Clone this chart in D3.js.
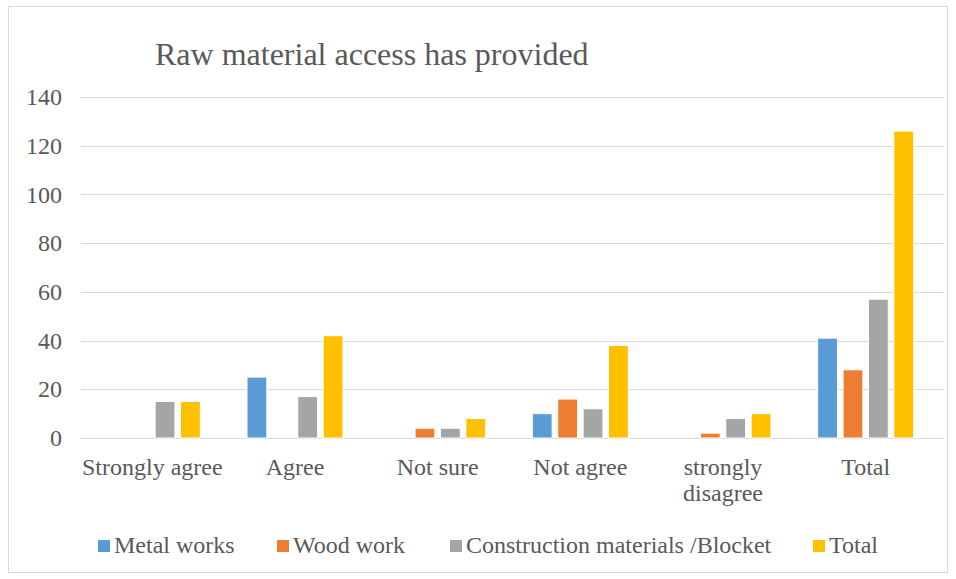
<!DOCTYPE html>
<html>
<head>
<meta charset="utf-8">
<script src="https://cdn.jsdelivr.net/npm/d3@7"></script>
<style>
  body { margin: 0; background: #fff; }
  text { font-family: "Liberation Serif", Tinos, "Times New Roman", "DejaVu Serif", serif; fill: #595959; }
</style>
</head>
<body>
<svg id="chart"></svg>
<script>
const categories = ["Strongly agree", "Agree", "Not sure", "Not agree", "strongly disagree", "Total"];
const series = ["Metal works", "Wood work", "Construction materials /Blocket", "Total"];
const metalWorks = [0, 25, 0, 10, 0, 41];
const woodWork = [0, 0, 4, 16, 2, 28];
const construction = [15, 17, 4, 12, 8, 57];
const totals = [15, 42, 8, 38, 10, 126];
const yTicks = [0, 20, 40, 60, 80, 100, 120, 140];
const colors = ["#5b9bd5", "#ed7d31", "#a5a5a5", "#ffc000"];

const values = [metalWorks, woodWork, construction, totals];
const data = categories.map((c, i) => ({
  category: c,
  vals: series.map((s, j) => ({ key: s, value: values[j][i] }))
}));

const width = 956, height = 579;
const margin = { top: 97, right: 12, bottom: 141, left: 81 };
const font = '"Liberation Serif", Tinos, "Times New Roman", "DejaVu Serif", serif';

const svg = d3.select("#chart").attr("width", width).attr("height", height);

// chart frame
svg.append("rect")
  .attr("x", 8.5).attr("y", 6.5)
  .attr("width", width - 17).attr("height", height - 13)
  .attr("fill", "#fff").attr("stroke", "#d9d9d9");

svg.append("text")
  .attr("x", 155).attr("y", 65)
  .style("font-size", "32px")
  .text("Raw material access has provided");

// bars sit a little inside the gridline span
const x0 = d3.scaleBand()
  .domain(categories)
  .range([margin.left, width - margin.right - 7])
  .paddingInner(0.327)
  .paddingOuter(0.1635);

const x1 = d3.scaleBand()
  .domain(series)
  .range([0, x0.bandwidth()])
  .paddingInner(0.22);

const y = d3.scaleLinear()
  .domain([0, 140])
  .range([height - margin.bottom, margin.top]);

// gridlines
svg.append("g")
  .selectAll("line")
  .data(yTicks)
  .join("line")
  .attr("x1", margin.left).attr("x2", width - margin.right)
  .attr("y1", d => Math.round(y(d)) + 0.5).attr("y2", d => Math.round(y(d)) + 0.5)
  .attr("stroke", "#d9d9d9").attr("stroke-width", 1.2);

// y tick labels
const yAxis = svg.append("g")
  .attr("transform", `translate(${margin.left - 19},0)`)
  .call(d3.axisLeft(y).tickValues(yTicks).tickSize(0).tickPadding(0));
yAxis.select(".domain").remove();
yAxis.selectAll("text")
  .style("font-size", "24px")
  .style("font-family", font)
  .attr("fill", "#595959");

// bars
const groups = svg.append("g")
  .selectAll("g")
  .data(data)
  .join("g")
  .attr("transform", d => `translate(${x0(d.category)},0)`);

groups.selectAll("rect")
  .data(d => d.vals.filter(v => v.value > 0))
  .join("rect")
  .attr("x", d => x1(d.key))
  .attr("width", x1.bandwidth())
  .attr("y", d => y(d.value))
  .attr("height", d => y(0) - y(d.value))
  .attr("fill", d => colors[series.indexOf(d.key)])
  .attr("stroke", "#fff")
  .attr("stroke-width", 1);

// category labels
const xAxis = svg.append("g")
  .attr("transform", `translate(0,${y(0)})`)
  .call(d3.axisBottom(x0).tickSize(0).tickPadding(0));
xAxis.select(".domain").remove();
xAxis.selectAll("text")
  .style("font-size", "24px")
  .style("font-family", font)
  .attr("fill", "#595959")
  .attr("dy", null)
  .attr("y", 37)
  .each(function(d) {
    if (d === "strongly disagree") {
      const t = d3.select(this).text(null);
      t.append("tspan").attr("x", 0).attr("y", 37).text("strongly");
      t.append("tspan").attr("x", 0).attr("y", 63).text("disagree");
    }
  });

// legend
const legendX = [98, 277, 450, 813];
const legend = svg.append("g")
  .selectAll("g")
  .data(series)
  .join("g")
  .attr("transform", (d, i) => `translate(${legendX[i]},546)`);

legend.append("rect")
  .attr("x", 0).attr("y", -6)
  .attr("width", 12).attr("height", 12)
  .attr("fill", (d, i) => colors[i]);

legend.append("text")
  .attr("x", 16).attr("y", 7)
  .style("font-size", "24px")
  .text(d => d);
</script>
</body>
</html>
